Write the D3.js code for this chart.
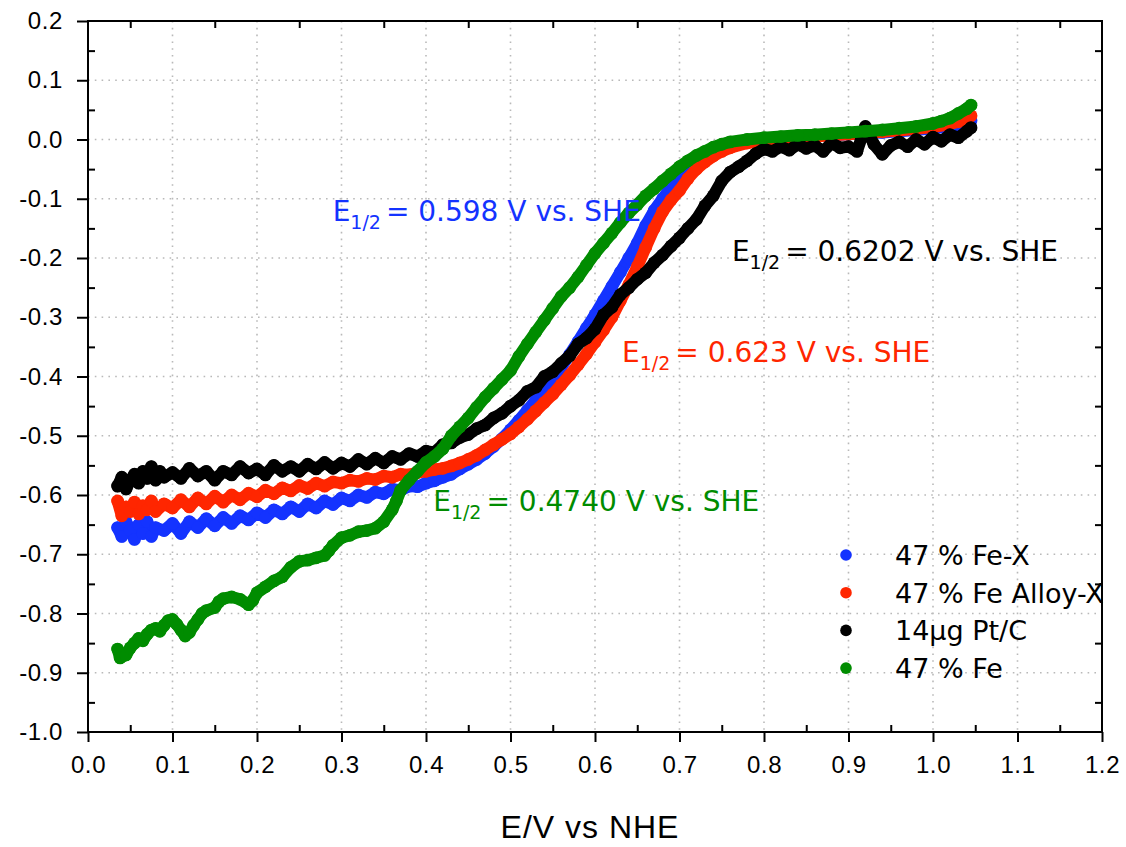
<!DOCTYPE html>
<html>
<head>
<meta charset="utf-8">
<script src="https://cdn.jsdelivr.net/npm/d3@7"></script>
<style>
  body { margin: 0; background: #fff; }
  svg { display: block; }
</style>
</head>
<body>
<div id="chart"></div>
<script>
// tick values (major / minor)
var xTicks = [0.0, 0.1, 0.2, 0.3, 0.4, 0.5, 0.6, 0.7, 0.8, 0.9, 1.0, 1.1, 1.2];
var yTicks = [0.2, 0.1, 0.0, -0.1, -0.2, -0.3, -0.4, -0.5, -0.6, -0.7, -0.8, -0.9, -1.0];
var xMinor = [0.05, 0.15, 0.25, 0.35, 0.45, 0.55, 0.65, 0.75, 0.85, 0.95, 1.05, 1.15];
var yMinor = [0.15, 0.05, -0.05, -0.15, -0.25, -0.35, -0.45, -0.55, -0.65, -0.75, -0.85, -0.95];

var seriesNames = ["47 % Fe-X", "47 % Fe Alloy-X", "14\u03bcg Pt/C", "47 % Fe"];
var seriesColors = ["#1433ff", "#ff2600", "#000000", "#008c00"];

// E (V vs NHE), current
var feX = [[0.035,-0.655],[0.04,-0.67],[0.045,-0.645],[0.05,-0.66],[0.055,-0.675],[0.06,-0.65],[0.065,-0.665],
  [0.07,-0.645],[0.075,-0.67],[0.08,-0.655],[0.09,-0.66],[0.1,-0.648],[0.11,-0.665],[0.12,-0.645],[0.13,-0.655],
  [0.14,-0.64],[0.15,-0.652],[0.16,-0.638],[0.17,-0.648],[0.18,-0.635],[0.19,-0.642],[0.2,-0.63],[0.21,-0.638],
  [0.22,-0.625],[0.23,-0.632],[0.24,-0.62],[0.25,-0.628],[0.26,-0.615],[0.27,-0.622],[0.28,-0.61],[0.29,-0.616],
  [0.3,-0.605],[0.31,-0.61],[0.32,-0.6],[0.33,-0.604],[0.34,-0.595],[0.35,-0.598],[0.36,-0.59],[0.37,-0.592],
  [0.38,-0.585],[0.39,-0.586],[0.4,-0.58],[0.41,-0.576],[0.42,-0.57],[0.43,-0.565],[0.44,-0.556],[0.45,-0.548],
  [0.46,-0.54],[0.47,-0.53],[0.48,-0.518],[0.49,-0.505],[0.5,-0.49],[0.51,-0.474],[0.52,-0.457],[0.53,-0.44],
  [0.54,-0.422],[0.55,-0.404],[0.56,-0.384],[0.57,-0.363],[0.58,-0.341],[0.59,-0.318],[0.6,-0.296],[0.61,-0.272],
  [0.62,-0.248],[0.63,-0.224],[0.64,-0.2],[0.65,-0.175],[0.66,-0.145],[0.67,-0.12],[0.68,-0.1],[0.69,-0.08],
  [0.7,-0.062],[0.71,-0.047],[0.72,-0.035],[0.73,-0.025],[0.74,-0.017],[0.75,-0.011],[0.76,-0.007],[0.78,-0.002],
  [0.8,0.0],[0.82,0.002],[0.84,0.004],[0.86,0.006],[0.88,0.007],[0.9,0.009],[0.92,0.011],[0.94,0.012],
  [0.96,0.014],[0.98,0.016],[1.0,0.019],[1.02,0.022],[1.03,0.025],[1.04,0.028],[1.045,0.032]];

var feAlloyX = [[0.035,-0.61],[0.04,-0.635],[0.045,-0.62],[0.05,-0.628],[0.055,-0.612],[0.06,-0.632],[0.065,-0.618],
  [0.07,-0.625],[0.075,-0.61],[0.08,-0.628],[0.09,-0.615],[0.1,-0.622],[0.11,-0.608],[0.12,-0.62],[0.13,-0.605],
  [0.14,-0.615],[0.15,-0.602],[0.16,-0.612],[0.17,-0.6],[0.18,-0.608],[0.19,-0.597],[0.2,-0.603],[0.21,-0.592],
  [0.22,-0.598],[0.23,-0.588],[0.24,-0.593],[0.25,-0.584],[0.26,-0.589],[0.27,-0.58],[0.28,-0.585],[0.29,-0.578],
  [0.3,-0.58],[0.31,-0.575],[0.32,-0.577],[0.33,-0.572],[0.34,-0.574],[0.35,-0.568],[0.36,-0.57],[0.37,-0.565],
  [0.38,-0.566],[0.39,-0.562],[0.4,-0.56],[0.41,-0.557],[0.42,-0.555],[0.43,-0.551],[0.44,-0.546],[0.45,-0.54],
  [0.46,-0.533],[0.47,-0.524],[0.48,-0.515],[0.49,-0.506],[0.5,-0.497],[0.51,-0.485],[0.52,-0.472],[0.53,-0.458],
  [0.54,-0.444],[0.55,-0.43],[0.56,-0.414],[0.57,-0.398],[0.58,-0.38],[0.59,-0.362],[0.6,-0.342],[0.61,-0.322],
  [0.62,-0.3],[0.63,-0.272],[0.64,-0.245],[0.65,-0.215],[0.66,-0.182],[0.67,-0.15],[0.68,-0.122],[0.69,-0.102],
  [0.7,-0.086],[0.71,-0.066],[0.72,-0.05],[0.73,-0.038],[0.74,-0.028],[0.75,-0.02],[0.76,-0.014],[0.78,-0.006],
  [0.8,-0.002],[0.82,0.001],[0.84,0.003],[0.86,0.005],[0.88,0.007],[0.9,0.009],[0.92,0.011],[0.94,0.013],
  [0.96,0.015],[0.98,0.018],[1.0,0.021],[1.02,0.026],[1.03,0.03],[1.04,0.035],[1.045,0.04]];

var ptC = [[0.035,-0.585],[0.04,-0.57],[0.045,-0.59],[0.05,-0.575],[0.055,-0.565],[0.06,-0.58],[0.065,-0.56],
  [0.07,-0.572],[0.075,-0.552],[0.08,-0.575],[0.085,-0.56],[0.09,-0.57],[0.1,-0.562],[0.11,-0.572],[0.12,-0.555],
  [0.13,-0.568],[0.14,-0.56],[0.15,-0.575],[0.16,-0.56],[0.17,-0.566],[0.18,-0.552],[0.19,-0.563],[0.2,-0.556],
  [0.21,-0.566],[0.22,-0.55],[0.23,-0.56],[0.24,-0.552],[0.25,-0.56],[0.26,-0.548],[0.27,-0.556],[0.28,-0.545],
  [0.29,-0.555],[0.3,-0.546],[0.31,-0.552],[0.32,-0.54],[0.33,-0.548],[0.34,-0.538],[0.35,-0.546],[0.36,-0.535],
  [0.37,-0.54],[0.38,-0.53],[0.39,-0.535],[0.4,-0.526],[0.41,-0.528],[0.42,-0.515],[0.43,-0.512],[0.44,-0.503],
  [0.45,-0.498],[0.46,-0.488],[0.47,-0.482],[0.48,-0.47],[0.49,-0.462],[0.5,-0.45],[0.51,-0.44],[0.52,-0.425],
  [0.53,-0.418],[0.54,-0.4],[0.55,-0.392],[0.56,-0.378],[0.57,-0.365],[0.58,-0.345],[0.59,-0.335],[0.6,-0.32],
  [0.61,-0.296],[0.62,-0.283],[0.63,-0.262],[0.64,-0.25],[0.65,-0.236],[0.66,-0.225],[0.67,-0.208],[0.68,-0.195],
  [0.69,-0.18],[0.7,-0.166],[0.71,-0.15],[0.72,-0.135],[0.73,-0.112],[0.74,-0.095],[0.75,-0.07],[0.76,-0.055],
  [0.77,-0.046],[0.78,-0.036],[0.79,-0.024],[0.8,-0.016],[0.81,-0.02],[0.82,-0.012],[0.83,-0.018],[0.84,-0.008],
  [0.85,-0.015],[0.86,-0.01],[0.87,-0.02],[0.88,-0.006],[0.89,-0.014],[0.9,-0.012],[0.91,-0.02],[0.92,0.022],
  [0.93,-0.008],[0.94,-0.025],[0.95,-0.01],[0.96,-0.004],[0.97,-0.012],[0.98,0.0],[0.99,-0.008],[1.0,0.004],
  [1.01,-0.003],[1.02,0.008],[1.03,0.003],[1.04,0.014],[1.045,0.02]];

var fe47 = [[0.035,-0.86],[0.038,-0.875],[0.045,-0.87],[0.05,-0.858],[0.055,-0.85],[0.06,-0.842],[0.065,-0.846],
  [0.07,-0.835],[0.075,-0.828],[0.08,-0.825],[0.085,-0.83],[0.09,-0.82],[0.095,-0.812],[0.1,-0.81],[0.105,-0.818],
  [0.11,-0.828],[0.115,-0.838],[0.12,-0.832],[0.125,-0.82],[0.13,-0.81],[0.135,-0.8],[0.14,-0.795],[0.15,-0.79],
  [0.155,-0.78],[0.16,-0.775],[0.17,-0.772],[0.18,-0.776],[0.19,-0.785],[0.195,-0.778],[0.2,-0.765],[0.21,-0.755],
  [0.22,-0.745],[0.23,-0.738],[0.24,-0.722],[0.25,-0.712],[0.26,-0.71],[0.27,-0.706],[0.28,-0.702],[0.285,-0.694],
  [0.29,-0.685],[0.3,-0.672],[0.31,-0.668],[0.32,-0.662],[0.33,-0.66],[0.34,-0.656],[0.35,-0.645],[0.36,-0.625],
  [0.365,-0.61],[0.37,-0.592],[0.38,-0.575],[0.39,-0.56],[0.4,-0.545],[0.41,-0.535],[0.42,-0.522],[0.43,-0.5],
  [0.44,-0.485],[0.45,-0.47],[0.46,-0.452],[0.47,-0.435],[0.48,-0.42],[0.49,-0.405],[0.5,-0.39],[0.51,-0.366],
  [0.52,-0.345],[0.53,-0.325],[0.54,-0.305],[0.55,-0.285],[0.56,-0.265],[0.57,-0.25],[0.58,-0.232],[0.59,-0.212],
  [0.6,-0.192],[0.61,-0.175],[0.62,-0.158],[0.63,-0.14],[0.64,-0.124],[0.65,-0.11],[0.66,-0.095],[0.67,-0.083],
  [0.68,-0.07],[0.69,-0.058],[0.7,-0.046],[0.71,-0.036],[0.72,-0.027],[0.73,-0.02],[0.74,-0.013],[0.75,-0.008],
  [0.76,-0.004],[0.78,0.0],[0.8,0.003],[0.82,0.005],[0.84,0.007],[0.86,0.008],[0.88,0.01],[0.9,0.012],
  [0.92,0.014],[0.94,0.016],[0.96,0.019],[0.98,0.022],[1.0,0.027],[1.01,0.031],[1.02,0.036],[1.03,0.044],
  [1.04,0.052],[1.045,0.058]];

// half-wave potential labels
var halfWaveValues = ["0.598", "0.6202", "0.623", "0.4740"];
var halfWaveSeries = [0, 2, 1, 3];
var halfWavePos = [[0.2895, -0.1375], [0.762, -0.2045], [0.632, -0.3755], [0.4085, -0.6275]]; // anchor in data units

function drawChart() {
    var width = 1126, height = 847;
    var margins = { top: 21, bottom: 115, left: 88, right: 24 };

    var svg = d3.select("#chart").append("svg")
        .attr("width", width).attr("height", height);

    var xScale = d3.scaleLinear().domain([0, 1.2]).range([margins.left, width - margins.right]);
    var yScale = d3.scaleLinear().domain([-1.0, 0.2]).range([height - margins.bottom, margins.top]);
    var x0 = xScale.range()[0], x1 = xScale.range()[1];
    var y0 = yScale.range()[0], y1 = yScale.range()[1];

    // dotted grid
    var grid = svg.append("g").attr("stroke", "#b9b9b9").attr("stroke-width", 1.6)
        .attr("stroke-dasharray", "1.6,5.2");
    grid.selectAll(".gx").data(xTicks.slice(1, -1)).enter().append("line")
        .attr("x1", d => xScale(d)).attr("x2", d => xScale(d))
        .attr("y1", y1).attr("y2", y0);
    grid.selectAll(".gy").data(yTicks.slice(1, -1)).enter().append("line")
        .attr("x1", x0).attr("x2", x1)
        .attr("y1", d => yScale(d)).attr("y2", d => yScale(d));

    // series: dense markers, drawn as a fat round line plus dots
    var allSeries = [feX, feAlloyX, ptC, fe47];
    var line = d3.line().x(d => xScale(d[0])).y(d => yScale(d[1])).curve(d3.curveLinear);
    allSeries.forEach(function(s, i) {
        var g = svg.append("g");
        g.append("path").datum(s)
            .attr("d", line)
            .attr("fill", "none")
            .attr("stroke", seriesColors[i])
            .attr("stroke-width", 12)
            .attr("stroke-linejoin", "round")
            .attr("stroke-linecap", "round");
        g.selectAll("circle").data(s).enter().append("circle")
            .attr("cx", d => xScale(d[0]))
            .attr("cy", d => yScale(d[1]))
            .attr("r", 6.4)
            .attr("fill", seriesColors[i]);
    });

    // E1/2 annotations
    halfWaveValues.forEach(function(v, i) {
        var c = seriesColors[halfWaveSeries[i]];
        var t = svg.append("text")
            .attr("x", xScale(halfWavePos[i][0]))
            .attr("y", yScale(halfWavePos[i][1]))
            .attr("fill", c)
            .style("font-family", "'DejaVu Sans', sans-serif")
            .style("font-size", "28px");
        t.append("tspan").text("E");
        t.append("tspan").attr("dy", 8).style("font-size", "19px").text("1/2");
        t.append("tspan").attr("dy", -8).attr("dx", 5).text("= " + v + " V vs. SHE");
    });

    // axes
    var fmt = function(d) { return d.toFixed(1); };
    var axisFont = "'Liberation Sans', Arial, sans-serif";

    var xAxis = svg.append("g").attr("transform", "translate(0," + y0 + ")")
        .call(d3.axisBottom(xScale).tickValues(xTicks).tickSize(10).tickSizeOuter(0).tickPadding(14).tickFormat(fmt));
    var xMin = svg.append("g").attr("transform", "translate(0," + y0 + ")")
        .call(d3.axisBottom(xScale).tickValues(xMinor).tickSize(-7).tickSizeOuter(0).tickFormat(""));
    var yAxis = svg.append("g").attr("transform", "translate(" + x0 + ",0)")
        .call(d3.axisLeft(yScale).tickValues(yTicks).tickSize(11).tickSizeOuter(0).tickPadding(14).tickFormat(fmt));
    var yMin = svg.append("g").attr("transform", "translate(" + x0 + ",0)")
        .call(d3.axisLeft(yScale).tickValues(yMinor).tickSize(-7).tickSizeOuter(0).tickFormat(""));
    var topMin = svg.append("g").attr("transform", "translate(0," + y1 + ")")
        .call(d3.axisTop(xScale).tickValues(xMinor).tickSize(-7).tickSizeOuter(0).tickFormat(""));
    var rightMin = svg.append("g").attr("transform", "translate(" + x1 + ",0)")
        .call(d3.axisRight(yScale).tickValues(yMinor).tickSize(-7).tickSizeOuter(0).tickFormat(""));

    [xAxis, xMin, yAxis, yMin, topMin, rightMin].forEach(function(a) {
        a.select(".domain").remove();
        a.selectAll(".tick line").attr("stroke", "#000").attr("stroke-width", 2);
        a.selectAll(".tick text").attr("fill", "#000")
            .style("font-family", axisFont).style("font-size", "24px").style("letter-spacing", "0.6px");
    });

    // frame
    svg.append("rect")
        .attr("x", x0).attr("y", y1)
        .attr("width", x1 - x0).attr("height", y0 - y1)
        .attr("fill", "none").attr("stroke", "#000").attr("stroke-width", 2);

    // axis title
    svg.append("text")
        .attr("x", (x0 + x1) / 2 - 5)
        .attr("y", 838)
        .attr("text-anchor", "middle")
        .style("font-family", axisFont)
        .style("font-size", "32px")
        .style("letter-spacing", "1px")
        .text("E/V vs NHE");

    // legend
    var legend = svg.append("g").attr("transform", "translate(846,555)");
    seriesNames.forEach(function(name, i) {
        var row = legend.append("g").attr("transform", "translate(0," + (i * 37.7) + ")");
        row.append("circle").attr("r", 5.8).attr("fill", seriesColors[i]);
        row.append("text")
            .attr("x", 49).attr("y", 10)
            .style("font-family", "'DejaVu Sans', sans-serif")
            .style("font-size", "27px")
            .text(name);
    });
}

drawChart();
</script>
</body>
</html>
